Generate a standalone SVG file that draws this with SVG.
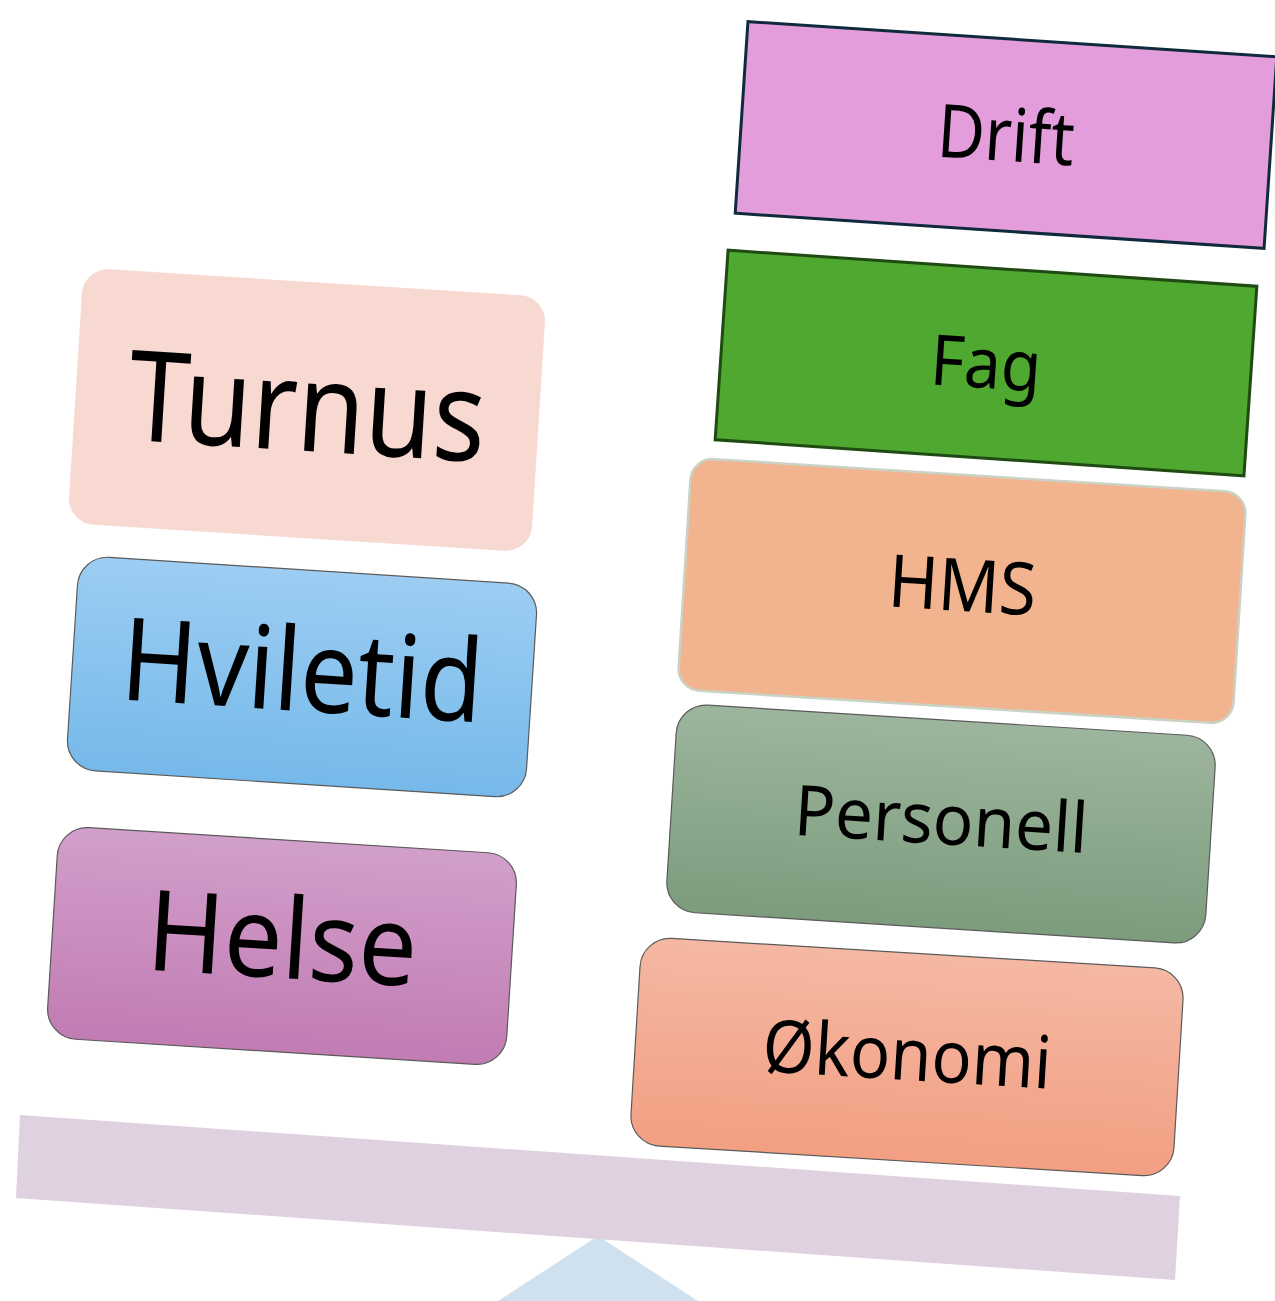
<svg xmlns="http://www.w3.org/2000/svg" width="1275" height="1301" viewBox="0 0 1275 1301">
<defs>
<linearGradient id="gHvile" x1="0" y1="0" x2="0" y2="1"><stop offset="0" stop-color="#9dcdf2"/><stop offset="1" stop-color="#75b9ea"/></linearGradient>
<linearGradient id="gHelse" x1="0" y1="0" x2="0" y2="1"><stop offset="0" stop-color="#d29fca"/><stop offset="1" stop-color="#c17cb3"/></linearGradient>
<linearGradient id="gPers" x1="0" y1="0" x2="0" y2="1"><stop offset="0" stop-color="#9db59d"/><stop offset="1" stop-color="#7c9c7d"/></linearGradient>
<linearGradient id="gOko" x1="0" y1="0" x2="0" y2="1"><stop offset="0" stop-color="#f5b8a3"/><stop offset="1" stop-color="#f29f82"/></linearGradient>
</defs>
<style>
text{font-family:"Noto Sans","Liberation Sans",sans-serif;fill:#000;text-anchor:middle}
.thin{stroke:#5a5a5a;stroke-width:1.2}
</style>
<rect width="1275" height="1301" fill="#ffffff"/>
<g id="fulcrum"><polygon points="598,1236 498,1301 698,1301" fill="#cfe0ee"/></g>
<g id="beam"><polygon points="20,1115 1180,1196 1175,1280 16,1198" fill="#e0d1e0"/></g>

<g id="turnus" transform="translate(307,410) rotate(3.6)">
<rect x="-232" y="-128" width="464" height="256" rx="26" fill="#f7d9d2"/>
<text x="0" y="41" font-size="126" textLength="358" lengthAdjust="spacingAndGlyphs">Turnus</text>
</g>
<g id="hviletid" transform="translate(302,677) rotate(3.7)">
<rect x="-230" y="-107" width="460" height="214" rx="30" fill="url(#gHvile)" class="thin"/>
<text x="0" y="34" font-size="115" textLength="362" lengthAdjust="spacingAndGlyphs">Hviletid</text>
</g>
<g id="helse" transform="translate(282,946) rotate(3.6)">
<rect x="-230" y="-106" width="460" height="212" rx="30" fill="url(#gHelse)" class="thin"/>
<text x="0" y="32" font-size="112" textLength="270" lengthAdjust="spacingAndGlyphs">Helse</text>
</g>
<g id="drift" transform="translate(1006,135) rotate(3.8)">
<rect x="-265" y="-96" width="530" height="192" fill="#e39ddb" stroke="#0f2a3c" stroke-width="3"/>
<text x="0" y="26" font-size="74" textLength="137" lengthAdjust="spacingAndGlyphs">Drift</text>
</g>
<g id="fag" transform="translate(986,363) rotate(3.9)">
<rect x="-265" y="-95" width="530" height="190" fill="#4fa82f" stroke="#1f4a12" stroke-width="3"/>
<text x="0" y="25" font-size="70" textLength="111" lengthAdjust="spacingAndGlyphs">Fag</text>
</g>
<g id="hms" transform="translate(962,591) rotate(3.6)">
<rect x="-278" y="-116" width="556" height="232" rx="22" fill="#f2b48f" stroke="#c9d2c4" stroke-width="2.5"/>
<text x="0" y="20" font-size="73" textLength="148" lengthAdjust="spacingAndGlyphs">HMS</text>
</g>
<g id="personell" transform="translate(941,824) rotate(3.6)">
<rect x="-270" y="-104" width="540" height="208" rx="30" fill="url(#gPers)" class="thin"/>
<text x="0" y="20" font-size="70" textLength="294" lengthAdjust="spacingAndGlyphs">Personell</text>
</g>
<g id="okonomi" transform="translate(907,1057) rotate(3.5)">
<rect x="-272" y="-104" width="544" height="208" rx="30" fill="url(#gOko)" class="thin"/>
<text x="0" y="23" font-size="73" textLength="289" lengthAdjust="spacingAndGlyphs">Økonomi</text>
</g>
<g id="connectors"/>
</svg>
